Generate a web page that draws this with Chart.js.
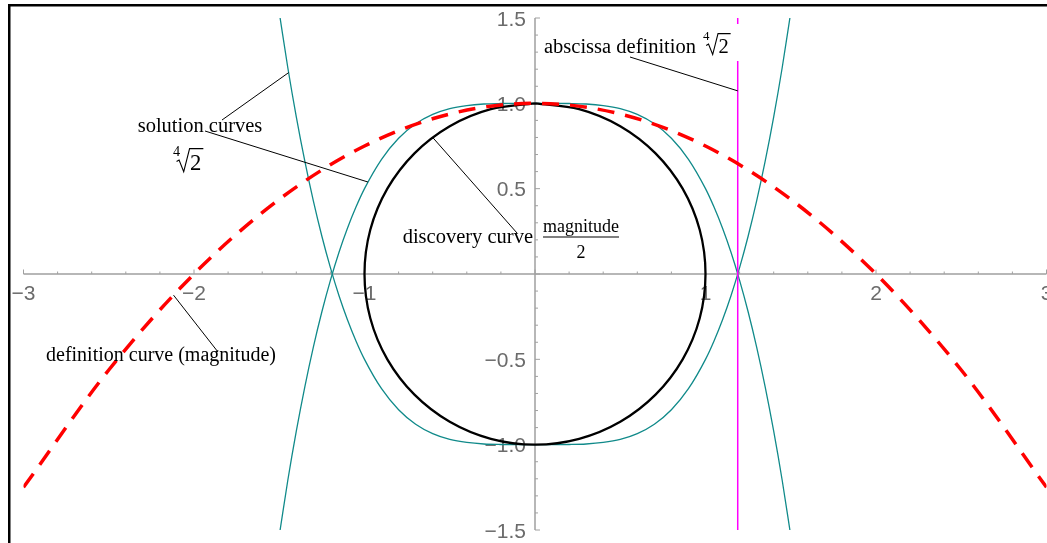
<!DOCTYPE html>
<html>
<head>
<meta charset="utf-8">
<script src="https://cdn.jsdelivr.net/npm/chart.js@4.4.1/dist/chart.umd.min.js"></script>
<style>
    body { margin: 0; background: #fff; }
    #wrap { position: relative; width: 1047px; height: 543px; overflow: hidden; }
</style>
</head>
<body>
<div id="wrap"><canvas id="curveChart" width="1047" height="543"></canvas></div>
<script>
// Tick values and labels
const xTickValues = [-3, -2, -1, 1, 2, 3];
const xTickLabels = ['\u22123', '\u22122', '\u22121', '1', '2', '3'];
const yTickValues = [1.5, 1.0, 0.5, -0.5, -1.0, -1.5];
const yTickLabels = ['1.5', '1.0', '0.5', '\u22120.5', '\u22121.0', '\u22121.5'];

// Discovery curve (black circle)
const circleX = [0, 0.259, 0.5, 0.707, 0.866, 0.966, 1, 0.966, 0.866, 0.707, 0.5, 0.259, 0,
                 -0.259, -0.5, -0.707, -0.866, -0.966, -1, -0.966, -0.866, -0.707, -0.5, -0.259, 0];
const circleY = [1, 0.966, 0.866, 0.707, 0.5, 0.259, 0, -0.259, -0.5, -0.707, -0.866, -0.966, -1,
                 -0.966, -0.866, -0.707, -0.5, -0.259, 0, 0.259, 0.5, 0.707, 0.866, 0.966, 1];

// Solution curves (teal)
const tealX = [-1.495, -1.45, -1.4, -1.35, -1.3, -1.25, -1.2, -1.15, -1.1, -1.05, -1.0,
               -0.9, -0.8, -0.7, -0.6, -0.5, -0.4, -0.3, -0.2, -0.1, 0,
               0.1, 0.2, 0.3, 0.4, 0.5, 0.6, 0.7, 0.8, 0.9,
               1.0, 1.05, 1.1, 1.15, 1.2, 1.25, 1.3, 1.35, 1.4, 1.45, 1.495];
const tealUpperY = [-1.5, -1.21, -0.921, -0.661, -0.428, -0.221, -0.037, 0.126, 0.268, 0.392, 0.5,
                    0.672, 0.795, 0.88, 0.935, 0.969, 0.987, 0.996, 0.999, 1.0, 1.0,
                    1.0, 0.999, 0.996, 0.987, 0.969, 0.935, 0.88, 0.795, 0.672,
                    0.5, 0.392, 0.268, 0.126, -0.037, -0.221, -0.428, -0.661, -0.921, -1.21, -1.5];
const tealLowerY = [1.5, 1.21, 0.921, 0.661, 0.428, 0.221, 0.037, -0.126, -0.268, -0.392, -0.5,
                    -0.672, -0.795, -0.88, -0.935, -0.969, -0.987, -0.996, -0.999, -1.0, -1.0,
                    -1.0, -0.999, -0.996, -0.987, -0.969, -0.935, -0.88, -0.795, -0.672,
                    -0.5, -0.392, -0.268, -0.126, 0.037, 0.221, 0.428, 0.661, 0.921, 1.21, 1.5];

// Definition curve (red dashed)
const defX = [-3, -2.5, -2, -1.5, -1, -0.5, 0, 0.5, 1, 1.5, 2, 2.5, 3];
const defY = [-1.25, -0.5625, 0, 0.4375, 0.75, 0.9375, 1, 0.9375, 0.75, 0.4375, 0, -0.5625, -1.25];

// Abscissa definition (magenta vertical)
const absX = [1.189, 1.189];
const absY = [-1.5, 1.5];

const SANS = '"Liberation Sans", Arial, sans-serif';
const SERIF = '"Liberation Serif", "Times New Roman", serif';

function pts(xs, ys) {
    return xs.map((x, i) => ({ x: x, y: ys[i] }));
}

function drawRadical(ctx, x, baseline, size) {
    ctx.fillStyle = '#000';
    ctx.textAlign = 'left';
    ctx.textBaseline = 'alphabetic';
    ctx.font = (size * 0.68) + 'px ' + SERIF;
    ctx.fillText('4', x, baseline - size * 0.66);
    const sx = x + size * 0.17;
    const rx = sx + size * 0.64;
    ctx.font = (size * 1.08) + 'px ' + SERIF;
    const w = ctx.measureText('2').width;
    ctx.fillText('2', rx, baseline);
    ctx.strokeStyle = '#000';
    ctx.lineWidth = 1.1;
    ctx.beginPath();
    ctx.moveTo(sx, baseline - size * 0.4);
    ctx.lineTo(sx + size * 0.12, baseline - size * 0.47);
    ctx.lineTo(sx + size * 0.34, baseline + size * 0.08);
    ctx.lineTo(sx + size * 0.62, baseline - size * 1.02);
    ctx.lineTo(rx + w + 2, baseline - size * 1.02);
    ctx.stroke();
}

function leader(ctx, x1, y1, x2, y2) {
    ctx.strokeStyle = '#000';
    ctx.lineWidth = 1;
    ctx.beginPath();
    ctx.moveTo(x1, y1);
    ctx.lineTo(x2, y2);
    ctx.stroke();
}

const axesPlugin = {
    id: 'axesPlugin',
    beforeDraw(chart) {
        const ctx = chart.ctx;
        ctx.save();
        ctx.fillStyle = '#fff';
        ctx.fillRect(0, 0, chart.width, chart.height);
        // frame (top and left edges visible)
        ctx.fillStyle = '#000';
        ctx.fillRect(8, 4, chart.width - 8, 2.5);
        ctx.fillRect(8, 4, 2.5, chart.height - 4);
        ctx.restore();
    },
    beforeDatasetsDraw(chart) {
        const ctx = chart.ctx;
        const xs = chart.scales.x, ys = chart.scales.y;
        const x0 = xs.getPixelForValue(0), y0 = ys.getPixelForValue(0);
        ctx.save();
        ctx.strokeStyle = '#a0a0a0';
        ctx.lineWidth = 1.5;
        ctx.beginPath();
        ctx.moveTo(xs.getPixelForValue(-3), y0);
        ctx.lineTo(xs.getPixelForValue(3), y0);
        ctx.moveTo(x0, ys.getPixelForValue(-1.5));
        ctx.lineTo(x0, ys.getPixelForValue(1.5));
        ctx.stroke();
        // x ticks: major every 1, minor every 0.2 (pointing up)
        ctx.lineWidth = 1;
        ctx.beginPath();
        for (let i = -15; i <= 15; i++) {
            const px = xs.getPixelForValue(i / 5);
            const len = (i % 5 === 0) ? 4.5 : 2.5;
            ctx.moveTo(px, y0);
            ctx.lineTo(px, y0 - len);
        }
        // y ticks: major every 0.5, minor every 0.1 (pointing right)
        for (let i = -15; i <= 15; i++) {
            const py = ys.getPixelForValue(i / 10);
            const len = (i % 5 === 0) ? 5 : 3;
            ctx.moveTo(x0, py);
            ctx.lineTo(x0 + len, py);
        }
        ctx.stroke();
        ctx.fillStyle = '#6b6b6b';
        ctx.font = '21px ' + SANS;
        ctx.textBaseline = 'alphabetic';
        ctx.textAlign = 'center';
        xTickValues.forEach((v, i) => {
            ctx.fillText(xTickLabels[i], xs.getPixelForValue(v), y0 + 25.5);
        });
        ctx.textAlign = 'right';
        yTickValues.forEach((v, i) => {
            ctx.fillText(yTickLabels[i], x0 - 9, ys.getPixelForValue(v) + 7.5);
        });
        ctx.restore();
    },
    afterDatasetsDraw(chart) {
        const ctx = chart.ctx;
        const xs = chart.scales.x, ys = chart.scales.y;
        const P = (x, y) => [xs.getPixelForValue(x), ys.getPixelForValue(y)];
        ctx.save();

        // abscissa definition label with white box
        ctx.fillStyle = '#fff';
        ctx.fillRect(541, 24, 198, 37);
        ctx.fillStyle = '#000';
        ctx.font = '20.5px ' + SERIF;
        ctx.textAlign = 'left';
        ctx.textBaseline = 'alphabetic';
        ctx.fillText('abscissa definition', 544, 53);
        drawRadical(ctx, 703, 53, 19);
        let q = P(1.189, 1.073);
        leader(ctx, 630, 57, q[0], q[1]);

        // solution curves label
        ctx.fillStyle = '#000';
        ctx.font = '20.5px ' + SERIF;
        ctx.textAlign = 'center';
        ctx.fillText('solution curves', 200, 132);
        drawRadical(ctx, 173, 170, 21);
        q = P(-1.445, 1.18);
        leader(ctx, 222, 120, q[0], q[1]);
        q = P(-0.98, 0.539);
        leader(ctx, 205, 131, q[0], q[1]);

        // discovery curve label
        ctx.fillStyle = '#000';
        ctx.font = '20.5px ' + SERIF;
        ctx.textAlign = 'right';
        ctx.fillText('discovery curve', 533, 243);
        ctx.font = '18px ' + SERIF;
        ctx.textAlign = 'center';
        ctx.fillText('magnitude', 581, 232);
        ctx.fillText('2', 581, 258);
        ctx.strokeStyle = '#000';
        ctx.lineWidth = 1.2;
        ctx.beginPath();
        ctx.moveTo(543, 237);
        ctx.lineTo(619, 237);
        ctx.stroke();
        q = P(-0.6, 0.8);
        leader(ctx, 517, 233, q[0], q[1]);

        // definition curve label
        ctx.fillStyle = '#000';
        ctx.font = '20px ' + SERIF;
        ctx.textAlign = 'left';
        ctx.fillText('definition curve (magnitude)', 46, 361);
        q = P(-2.12, -0.124);
        leader(ctx, 218, 352, q[0], q[1]);

        ctx.restore();
    }
};

new Chart(document.getElementById('curveChart').getContext('2d'), {
    type: 'scatter',
    data: {
        datasets: [{
            label: 'definition curve',
            data: pts(defX, defY),
            showLine: true,
            borderColor: '#ff0000',
            borderWidth: 3.5,
            borderDash: [17, 11],
            cubicInterpolationMode: 'monotone',
            pointRadius: 0
        }, {
            label: 'abscissa definition',
            data: pts(absX, absY),
            showLine: true,
            borderColor: '#ff00ff',
            borderWidth: 1.5,
            pointRadius: 0
        }, {
            label: 'discovery curve',
            data: pts(circleX, circleY),
            showLine: true,
            borderColor: '#000000',
            borderWidth: 2.3,
            tension: 0.34,
            pointRadius: 0
        }, {
            label: 'solution upper',
            data: pts(tealX, tealUpperY),
            showLine: true,
            borderColor: '#108a8a',
            borderWidth: 1.3,
            cubicInterpolationMode: 'monotone',
            pointRadius: 0
        }, {
            label: 'solution lower',
            data: pts(tealX, tealLowerY),
            showLine: true,
            borderColor: '#108a8a',
            borderWidth: 1.3,
            cubicInterpolationMode: 'monotone',
            pointRadius: 0
        }]
    },
    options: {
        responsive: false,
        animation: false,
        devicePixelRatio: 1,
        layout: {
            padding: { left: 23.5, right: 0.5, top: 18, bottom: 13 }
        },
        plugins: {
            legend: { display: false },
            tooltip: { enabled: false }
        },
        scales: {
            x: { type: 'linear', min: -3, max: 3, display: false },
            y: { type: 'linear', min: -1.5, max: 1.5, display: false }
        }
    },
    plugins: [axesPlugin]
});
</script>
</body>
</html>
